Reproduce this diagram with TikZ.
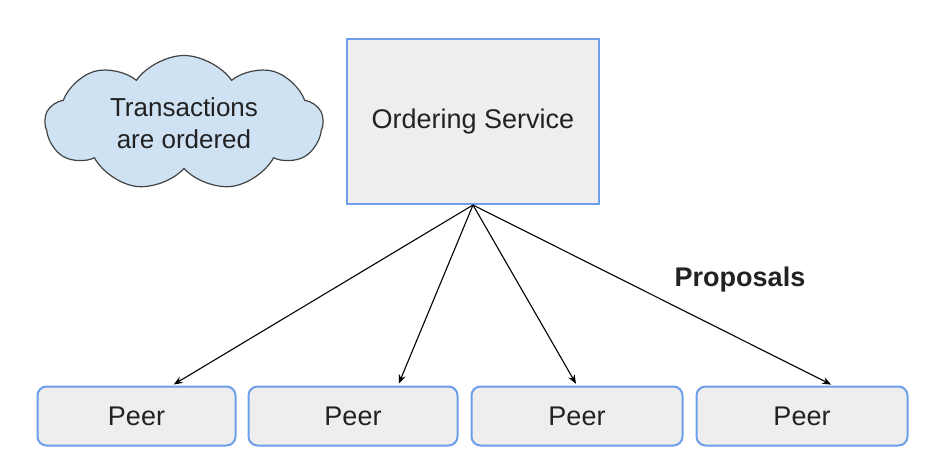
\documentclass[tikz,border=0pt]{standalone}
\usepackage{fontspec}
\setmainfont{Liberation Sans}
\usetikzlibrary{shapes.symbols,arrows.meta}
\definecolor{boxfill}{HTML}{EEEEEE}
\definecolor{boxline}{HTML}{6D9EEB}
\definecolor{cloudfill}{HTML}{CFE2F3}
\definecolor{cloudline}{HTML}{434343}
\definecolor{txt}{HTML}{222222}
\begin{document}
\begin{tikzpicture}[x=1pt,y=-1pt,
  svc/.style={draw=boxline,fill=boxfill,line width=2pt,inner sep=0pt,text=txt,font=\fontsize{27}{32}\selectfont},
  peerbox/.style={draw=boxline,fill=boxfill,line width=2pt,rounded corners=9pt,minimum height=59pt,inner sep=0pt,text=txt,font=\fontsize{27}{32}\selectfont},
  arr/.style={-{Stealth[length=9pt,width=7pt]},line width=1.1pt,shorten >=2pt}]
\useasboundingbox (0,0) rectangle (935,471);
\node[cloud,cloud puffs=9,cloud puff arc=110,aspect=2.05,draw=cloudline,fill=cloudfill,line width=1.2pt,
  minimum width=278pt,minimum height=135pt,inner sep=0pt,align=center,text=txt,
  font=\fontsize{26}{32}\selectfont] (cl) at (184,123) {Transactions\\are ordered};
\node[svc,minimum width=252pt,minimum height=165pt] (os) at (473,121.5) {Ordering Service};
\node[peerbox,minimum width=198pt] (p1) at (136.5,416) {Peer};
\node[peerbox,minimum width=209pt] (p2) at (353,416) {Peer};
\node[peerbox,minimum width=211pt] (p3) at (577,416) {Peer};
\node[peerbox,minimum width=211pt] (p4) at (802,416) {Peer};
\draw[arr] (os.south) -- ([xshift=35.5pt]p1.north);
\draw[arr] (os.south) -- ([xshift=45pt]p2.north);
\draw[arr] (os.south) -- ([xshift=0pt]p3.north);
\draw[arr] (os.south) -- ([xshift=31pt]p4.north);
\node[font=\fontsize{27}{32}\selectfont\bfseries,text=txt] (pr) at (740,280) {Proposals};
\end{tikzpicture}
\end{document}
